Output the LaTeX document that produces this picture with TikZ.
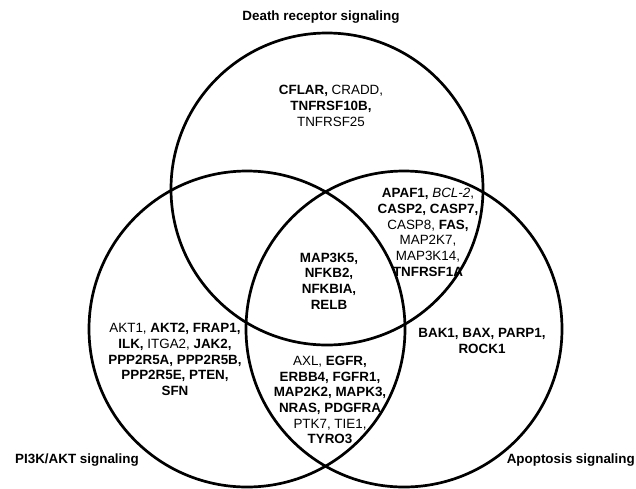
\documentclass[tikz,border=0pt]{standalone}
\usepackage{fontspec}
\setmainfont{Liberation Sans}
\begin{document}
\begin{tikzpicture}[x=1pt,y=-1pt,
  setline/.style={line width=2.7pt},
  genes/.style={align=center, inner sep=0pt, font=\fontsize{13.4}{15.7}\selectfont},
  settitle/.style={inner sep=0pt, font=\fontsize{13.4}{15.7}\selectfont\bfseries}]
\useasboundingbox (0,0) rectangle (636,488);
\coordinate (cT) at (327,189);
\coordinate (cL) at (247,329);
\coordinate (cR) at (404,329);
\draw[setline] (cT) circle[radius=156pt];
\draw[setline] (cL) circle[radius=158pt];
\draw[setline] (cR) circle[radius=158pt];
\node[settitle] (tD) at (321,17) {Death receptor signaling};
\node[settitle, anchor=west] (tP) at (15,460) {PI3K/AKT signaling};
\node[settitle, anchor=east] (tA) at (635,460) {Apoptosis signaling};
\node[genes] (gT) at (331,106) {\textbf{CFLAR,} CRADD,\\ \textbf{TNFRSF10B,}\\ TNFRSF25};
\node[genes] (gTR) at (428,232.5) {\textbf{APAF1,} \textit{BCL-2},\\ \textbf{CASP2, CASP7,}\\ CASP8, \textbf{FAS,}\\ MAP2K7,\\ MAP3K14,\\ \textbf{TNFRSF1A}};
\node[genes] (gR) at (482,341) {\textbf{BAK1, BAX, PARP1,}\\ \textbf{ROCK1}};
\node[genes] (gC) at (329,281) {\textbf{MAP3K5,}\\ \textbf{NFKB2,}\\ \textbf{NFKBIA,}\\ \textbf{RELB}};
\node[genes] (gB) at (330,400) {AXL, \textbf{EGFR,}\\ \textbf{ERBB4, FGFR1,}\\ \textbf{MAP2K2, MAPK3,}\\ \textbf{NRAS, PDGFRA}\\ PTK7, TIE1,\\ \textbf{TYRO3}};
\node[genes] (gL) at (175,359.5) {AKT1, \textbf{AKT2, FRAP1,}\\ \textbf{ILK,} ITGA2, \textbf{JAK2,}\\ \textbf{PPP2R5A, PPP2R5B,}\\ \textbf{PPP2R5E, PTEN,}\\ \textbf{SFN}};
\end{tikzpicture}
\end{document}
